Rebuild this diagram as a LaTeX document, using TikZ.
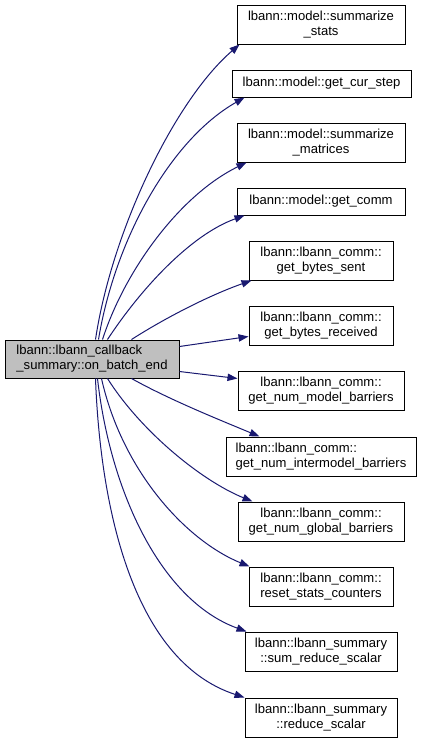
\documentclass[tikz,border=0pt]{standalone}
\usepackage{fontspec}
\setmainfont{Liberation Sans}
\usetikzlibrary{arrows.meta,calc}
\definecolor{edgeblue}{HTML}{191970}
\definecolor{srcgray}{HTML}{BFBFBF}
\tikzset{
  fn/.style={draw=black, line width=0.75pt, inner sep=0pt, align=center,
    minimum height=29.25pt, font=\fontsize{9.8}{11.25}\selectfont},
  call/.style={draw=edgeblue, line width=0.75pt,
    -{Triangle[length=7.5pt,width=5.5pt]}}
}
\begin{document}
\begin{tikzpicture}[x=0.75pt,y=-0.75pt]
    \useasboundingbox (0,0) rectangle (421,743);
    % caller
    \node[fn, fill=srcgray, align=left, minimum width=130.5pt, minimum height=28.5pt]
      (batchend) at (92,359) {lbann::lbann\_callback\\\_summary::on\_batch\_end};
    % callees
    \node[fn, minimum width=126pt] (sumstats) at (321,24.5) {lbann::model::summarize\\\_stats};
    \node[fn, minimum width=134.25pt, minimum height=20.25pt] (curstep) at (321.5,83.5) {lbann::model::get\_cur\_step};
    \node[fn, minimum width=126pt] (summats) at (321,142.5) {lbann::model::summarize\\\_matrices};
    \node[fn, minimum width=126pt, minimum height=20.25pt] (getcomm) at (321,201.5) {lbann::model::get\_comm};
    \node[fn, minimum width=108pt] (bsent) at (321,260.5) {lbann::lbann\_comm::\\get\_bytes\_sent};
    \node[fn, minimum width=108pt] (brecv) at (321,325.5) {lbann::lbann\_comm::\\get\_bytes\_received};
    \node[fn, minimum width=124.5pt] (modelbar) at (321,390.5) {lbann::lbann\_comm::\\get\_num\_model\_barriers};
    \node[fn, align=left, minimum width=142.5pt] (interbar) at (321,456.5) {lbann::lbann\_comm::\\get\_num\_intermodel\_barriers};
    \node[fn, minimum width=124.5pt] (globalbar) at (321,521.5) {lbann::lbann\_comm::\\get\_num\_global\_barriers};
    \node[fn, minimum width=108pt] (resetstats) at (321,586.5) {lbann::lbann\_comm::\\reset\_stats\_counters};
    \node[fn, minimum width=114pt] (sumreduce) at (321,651.5) {lbann::lbann\_summary\\::sum\_reduce\_scalar};
    \node[fn, minimum width=114pt] (reduce) at (321,717.5) {lbann::lbann\_summary\\::reduce\_scalar};
    % calls upwards
    \draw[call] ($(batchend.north west)+(91,0)$) .. controls (112,230) and (175,100) .. ($(sumstats.south west)+(3,0)$);
    \draw[call] ($(batchend.north west)+(94,0)$) .. controls (115,240) and (170,140) .. ($(curstep.south west)+(13,0)$);
    \draw[call] ($(batchend.north west)+(98,0)$) .. controls (125,270) and (180,195) .. ($(summats.south west)+(10,0)$);
    \draw[call] ($(batchend.north west)+(103,0)$) .. controls (140,290) and (190,235) .. ($(getcomm.south west)+(8,0)$);
    \draw[call] ($(batchend.north west)+(127,0)$) .. controls (165,318) and (210,295) .. ($(bsent.south west)+(3,0)$);
    % calls to the side
    \draw[call] ($(batchend.north east)+(0,7)$) -- ($(brecv.west)+(0,11)$);
    \draw[call] ($(batchend.south east)+(0,-7)$) -- ($(modelbar.west)+(0,-12)$);
    % calls downwards
    \draw[call] ($(batchend.south west)+(127,0)$) .. controls (170,400) and (220,420) .. ($(interbar.north west)+(34,0)$);
    \draw[call] ($(batchend.south west)+(103,0)$) .. controls (140,430) and (200,480) .. ($(globalbar.north west)+(15,0)$);
    \draw[call] ($(batchend.south west)+(97,0)$) .. controls (122,470) and (185,540) .. ($(resetstats.north west)+(1,0)$);
    \draw[call] ($(batchend.south west)+(93,0)$) .. controls (110,490) and (160,600) .. ($(sumreduce.north west)+(2,0)$);
    \draw[call] ($(batchend.south west)+(91,0)$) .. controls (100,500) and (130,660) .. ($(reduce.north west)+(0,0)$);
\end{tikzpicture}
\end{document}
